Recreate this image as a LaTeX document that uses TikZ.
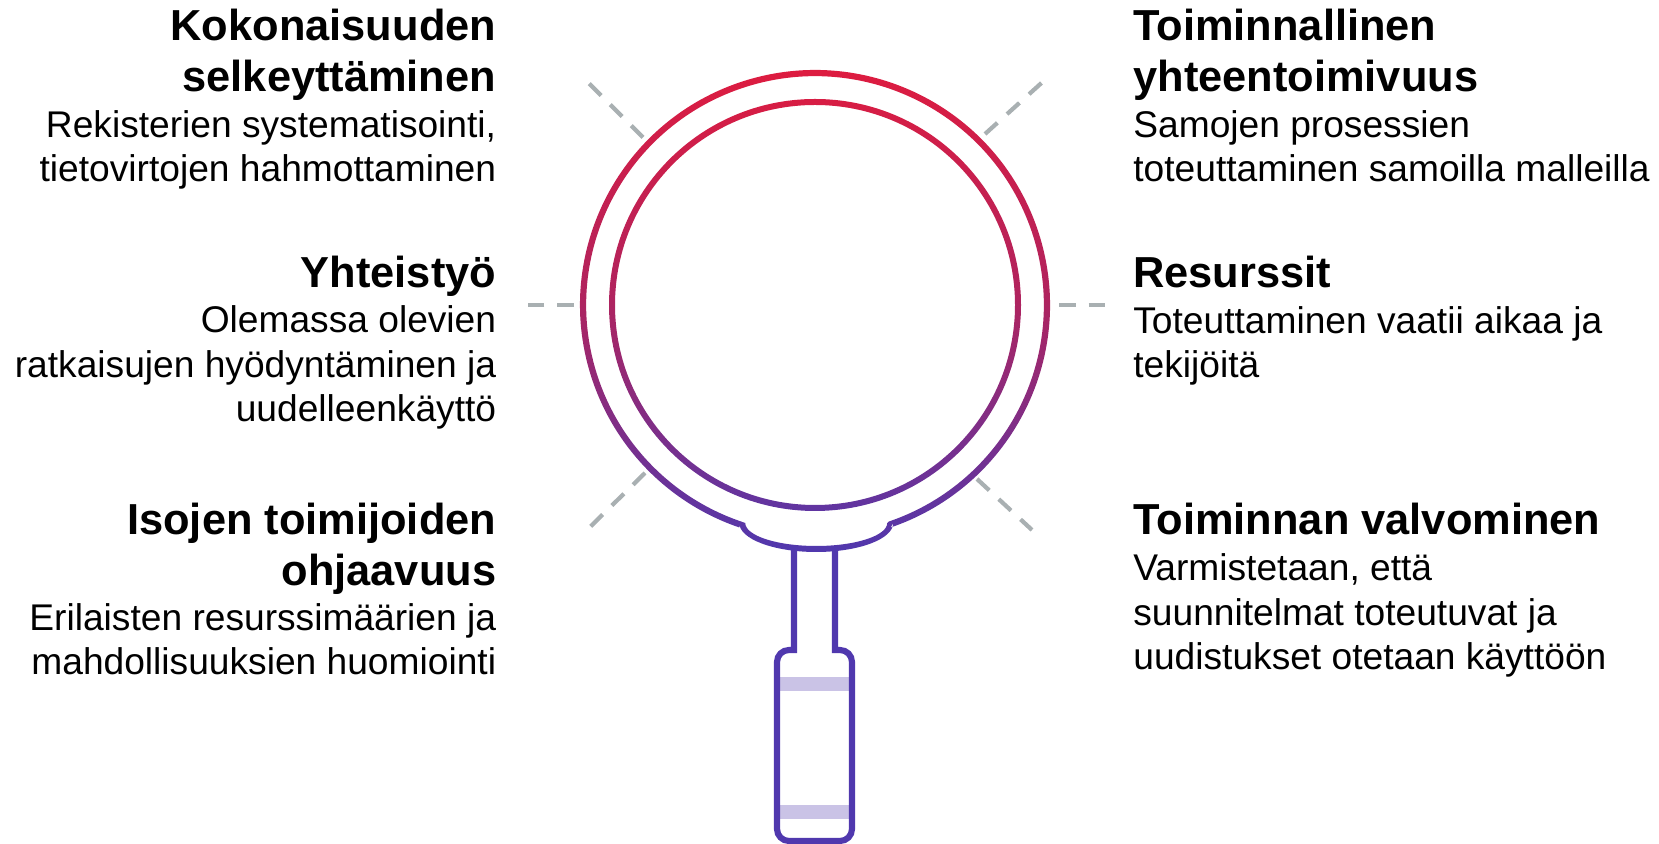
\documentclass[tikz,border=0pt]{standalone}
\usepackage{fontspec}
\setmainfont{Liberation Sans}
\definecolor{lensred}{HTML}{E31B3C}
\definecolor{lensmid}{HTML}{B0235E}
\definecolor{lenspurple}{HTML}{5038AE}
\definecolor{stripelilac}{HTML}{CAC3E6}
\definecolor{raygray}{HTML}{A9B0B2}
\tikzset{
  titletext/.style={inner sep=0pt, align=#1, font=\bfseries\fontsize{24.7pt}{28.9pt}\selectfont},
  bodytext/.style={inner sep=0pt, align=#1, font=\fontsize{21.15pt}{25.5pt}\selectfont},
  ray/.style={draw=raygray, line width=2.4pt, dash pattern=on 9.5pt off 7.4pt},
  handleline/.style={draw=lenspurple, line width=3.5pt}
}
\begin{document}
\begin{tikzpicture}[x=0.02cm, y=0.02cm]
  \useasboundingbox (0,0) rectangle (1659,844);

  % lens and collar, the ring as one shaded shape
  \shade[even odd rule, top color=lensred, bottom color=lenspurple, middle color=lensmid]
    (815,539) ++(288.8:235) arc[start angle=288.8, end angle=611.2, radius=235]
      -- (739.25,321) arc[start angle=180, end angle=360, x radius=77, y radius=29] -- cycle
    (815,539) ++(288.8:228.8) arc[start angle=288.8, end angle=611.2, radius=228.8]
      -- (745.25,321) arc[start angle=180, end angle=360, x radius=71, y radius=23] -- cycle
    (815,539) circle[radius=206]
    (815,539) circle[radius=200];

  % stripes on the handle
  \fill[stripelilac] (779,153) rectangle (850,167);
  \fill[stripelilac] (779,25) rectangle (850,39);

  % stem and handle
  \draw[handleline] (794,297) -- (794,194) -- (789,194) arc (90:180:12) -- (777,15) arc (180:270:12)
    -- (840,3) arc (270:360:12) -- (852,182) arc (0:90:12) -- (835,194) -- (835,297);

  % rays around the lens
  \draw[ray] (643,706.5) -- (588,761.5);
  \draw[ray] (574,539) -- (528,539);
  \draw[ray] (645,371) -- (590,317);
  \draw[ray] (985,710) -- (1042,761.5);
  \draw[ray] (1059,539) -- (1105,539);
  \draw[ray] (977,365) -- (1032,314);

  % left column
  \node[titletext=right, anchor=base east] (whole) at (496.5,752.3) {Kokonaisuuden\\selkeyttäminen};
  \node[bodytext=right, anchor=base east] (wholetext) at (496.5,662) {Rekisterien systematisointi,\\tietovirtojen hahmottaminen};
  \node[titletext=right, anchor=base east] (together) at (496.5,556) {Yhteistyö};
  \node[bodytext=right, anchor=base east] (togethertext) at (496.5,422) {Olemassa olevien\\ratkaisujen hyödyntäminen ja\\uudelleenkäyttö};
  \node[titletext=right, anchor=base east] (big) at (496.5,258.5) {Isojen toimijoiden\\ohjaavuus};
  \node[bodytext=right, anchor=base east] (bigtext) at (496.5,169) {Erilaisten resurssimäärien ja\\mahdollisuuksien huomiointi};

  % right column
  \node[titletext=left, anchor=base west] (function) at (1133,752.3) {Toiminnallinen\\yhteentoimivuus};
  \node[bodytext=left, anchor=base west] (functiontext) at (1133,662) {Samojen prosessien\\toteuttaminen samoilla malleilla};
  \node[titletext=left, anchor=base west] (means) at (1133,556) {Resurssit};
  \node[bodytext=left, anchor=base west] (meanstext) at (1133,466) {Toteuttaminen vaatii aikaa ja\\tekijöitä};
  \node[titletext=left, anchor=base west] (watch) at (1133,309) {Toiminnan valvominen};
  \node[bodytext=left, anchor=base west] (watchtext) at (1133,174) {Varmistetaan, että\\suunnitelmat toteutuvat ja\\uudistukset otetaan käyttöön};
\end{tikzpicture}
\end{document}
